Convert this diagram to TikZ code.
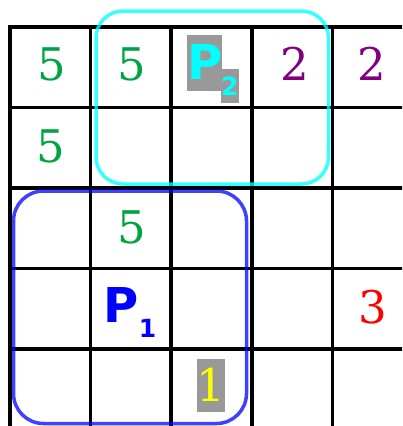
\documentclass[tikz,border=0pt]{standalone}
\usepackage{fontspec}
\newfontfamily\digitfont{DejaVu Serif}
\newfontfamily\pfont{DejaVu Sans}
\definecolor{numgreen}{RGB}{0,165,65}
\definecolor{numpurple}{RGB}{128,0,128}
\definecolor{numred}{RGB}{255,0,0}
\definecolor{numyellow}{RGB}{255,255,0}
\definecolor{boxgray}{RGB}{153,153,153}
\definecolor{pcyan}{RGB}{0,255,255}
\definecolor{pblue}{RGB}{0,0,255}
\tikzset{
  gridline/.style={line width=3.5pt, black},
  digit/.style={inner sep=0pt, font=\digitfont\fontsize{45}{45}\selectfont},
  boxdigit/.style={digit, fill=boxgray, text height=41.8pt, text depth=10.6pt},
  plabel/.style={inner sep=0pt, font=\pfont\bfseries\fontsize{48}{48}\selectfont},
  psub/.style={inner sep=0pt, font=\pfont\bfseries\fontsize{25}{25}\selectfont},
  pbox/.style={plabel, fill=boxgray, text height=44.5pt, text depth=11.3pt},
  psubbox/.style={psub, fill=boxgray, text height=26pt, text depth=7.6pt},
  region/.style={line width=3.5pt, rounded corners=27pt},
}
\begin{document}
\begin{tikzpicture}[x=1pt,y=-1pt]
\useasboundingbox (0,0) rectangle (402,426);
\clip (0,0) rectangle (402,426);
% grid
\foreach \i in {0,...,4} {
  \draw[gridline] ({10+80.6*\i},25.05) -- ({10+80.6*\i},440);
  \draw[gridline] (8.25,{26.8+80.6*\i}) -- (420,{26.8+80.6*\i});
}
% numbers
\node[digit, text=numgreen] (n00) at (51.5,64) {5};
\node[digit, text=numgreen] (n01) at (131.5,64) {5};
\node[digit, text=numpurple] (n03) at (294.5,64) {2};
\node[digit, text=numpurple] (n04) at (372,64) {2};
\node[digit, text=numgreen] (n10) at (50.5,146.5) {5};
\node[digit, text=numgreen] (n21) at (132,227.5) {5};
\node[digit, text=numred] (n34) at (373,307.5) {3};
\node[boxdigit, text=numyellow, anchor=north west] (n42) at (196.5,359) {1};
% P2
\node[pbox, text=pcyan, anchor=north west] (p2) at (187,35) {P};
\node[psubbox, text=pcyan, anchor=north west] (p2s) at (221,69) {2};
% P1
\node[plabel, text=pblue, anchor=base west] (p1) at (103,322) {P};
\node[psub, text=pblue, anchor=base west] (p1s) at ([yshift=-15pt]p1.base east) {1};
% regions
\draw[region, draw=pcyan, draw opacity=0.78] (96,11) rectangle (328.5,184);
\draw[region, draw=pblue, draw opacity=0.75, rounded corners=30pt] (13.5,191) rectangle (246.5,423.5);
\end{tikzpicture}
\end{document}
